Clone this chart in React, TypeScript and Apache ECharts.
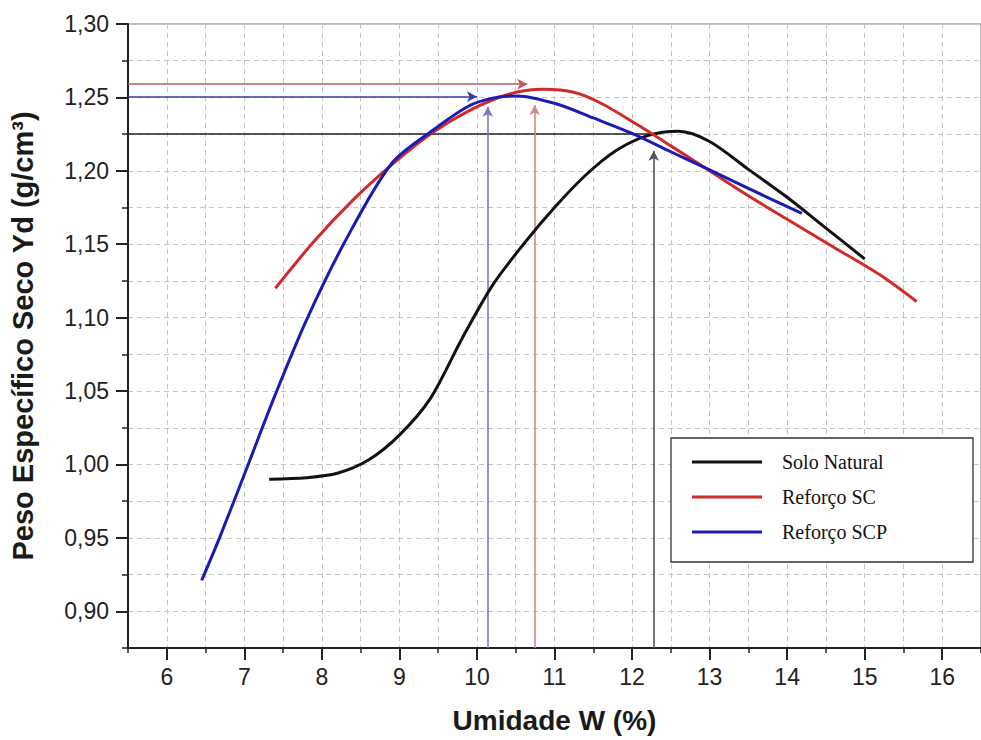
import React, { useEffect, useRef } from "react";
import * as echarts from "echarts";

const seriesNames = ["Solo Natural", "Reforço SC", "Reforço SCP"];

const soloW = [7.32, 7.8, 8.2, 8.6, 9.0, 9.4, 9.8, 10.2, 10.6, 11.0, 11.4, 11.8, 12.2, 12.6, 13.0, 13.5, 14.0, 14.5, 15.0];
const soloY = [0.99, 0.991, 0.994, 1.003, 1.02, 1.045, 1.085, 1.122, 1.15, 1.175, 1.197, 1.214, 1.224, 1.227, 1.22, 1.201, 1.182, 1.161, 1.14];

const scW = [7.4, 7.9, 8.4, 8.9, 9.4, 9.9, 10.4, 10.85, 11.25, 11.6, 12.05, 12.5, 13.0, 13.5, 14.0, 14.6, 15.2, 15.67];
const scY = [1.12, 1.152, 1.18, 1.204, 1.225, 1.241, 1.252, 1.2555, 1.2535, 1.246, 1.232, 1.217, 1.2, 1.183, 1.167, 1.148, 1.129, 1.111];

const scpW = [6.45, 6.68, 7.05, 7.38, 7.79, 8.3, 8.9, 9.44, 9.89, 10.2, 10.52, 11.03, 11.5, 12.0, 12.5, 13.0, 13.5, 14.19];
const scpY = [0.921, 0.95, 1.0, 1.045, 1.097, 1.152, 1.205, 1.228, 1.244, 1.2495, 1.251, 1.2455, 1.236, 1.2255, 1.213, 1.2006, 1.188, 1.171];

// reference lines (optimum values): order = Solo Natural, Reforço SC, Reforço SCP
const hRefY = [1.225, 1.259, 1.2505];
const hRefEndW = [12.28, 10.65, 10.0];
const vRefW = [12.28, 10.745, 10.14];
const vRefTopY = [1.2137, 1.2448, 1.2437];

const xTickLabels = [6, 7, 8, 9, 10, 11, 12, 13, 14, 15, 16];
const yTickLabels = [0.9, 0.95, 1.0, 1.05, 1.1, 1.15, 1.2, 1.25, 1.3];

const xMin = 5.5;
const xMax = 16.5;
const yMin = 0.875;
const yMax = 1.3;

const curveColors = ["#111111", "#d02a2a", "#1c1cb4"];
const hRefColors = ["#222222", "#c05858", "#3a3aa8"];
const vRefColors = ["#555555", "#d08888", "#7a7ac4"];

const fontSans = "'Liberation Sans', Arial, sans-serif";
const fontSerif = "'Liberation Serif', 'Times New Roman', serif";

const zip = (a: number[], b: number[]) => a.map((v, i) => [v, b[i]]);
const fmtY = (v: number) => v.toFixed(2).replace(".", ",");

export default function App() {
  const ref = useRef<HTMLDivElement>(null);
  useEffect(() => {
    if (!ref.current) return;
    const chart = echarts.init(ref.current, undefined, { renderer: "svg" });

    const curveData = [zip(soloW, soloY), zip(scW, scY), zip(scpW, scpY)];

    const curves = seriesNames.map((name, i) => ({
      name,
      type: "line",
      xAxisIndex: 0,
      yAxisIndex: 0,
      data: curveData[i],
      smooth: 0.3,
      symbol: "none",
      lineStyle: { color: curveColors[i], width: 3 },
      itemStyle: { color: curveColors[i] },
      z: 5,
    }));

    const refs = seriesNames.map((name, i) => ({
      name: name + " ref",
      type: "line",
      xAxisIndex: 0,
      yAxisIndex: 0,
      data: [],
      z: 4,
      markLine: {
        silent: true,
        animation: false,
        symbol: ["none", "arrow"],
        symbolSize: [8, 10],
        label: { show: false },
        emphasis: { disabled: true },
        data: [
          [
            { coord: [xMin, hRefY[i]], symbol: "none", lineStyle: { color: hRefColors[i], width: 1.5, type: "solid" } },
            { coord: [hRefEndW[i], hRefY[i]], symbol: i === 0 ? "none" : "arrow" },
          ],
          [
            { coord: [vRefW[i], yMin], symbol: "none", lineStyle: { color: vRefColors[i], width: 1.6, type: "solid" } },
            { coord: [vRefW[i], vRefTopY[i]], symbol: "arrow" },
          ],
        ],
      },
    }));

    const option: any = {
      animation: false,
      backgroundColor: "#ffffff",
      grid: [
        { left: 125, top: 24, right: -9, bottom: 92, show: true, borderColor: "#a8a8a8", borderWidth: 1.5 },
      ],
      xAxis: [
        {
          gridIndex: 0,
          type: "value",
          min: xMin,
          max: xMax,
          interval: 0.5,
          name: "Umidade W (%)",
          nameLocation: "middle",
          nameGap: 58,
          nameTextStyle: { fontFamily: fontSans, fontSize: 28, fontWeight: "bold", color: "#1a1a1a" },
          axisLine: { show: true, lineStyle: { color: "#222", width: 2 } },
          axisTick: { show: true, length: 5, lineStyle: { color: "#222", width: 1.5 } },
          axisLabel: { show: false },
          splitLine: { show: true, lineStyle: { color: "#c4c4c4", width: 1, type: [5, 4] } },
        },
        {
          gridIndex: 0,
          type: "value",
          position: "bottom",
          min: xMin,
          max: xMax,
          axisLine: { show: false },
          axisTick: { show: true, length: 12, customValues: xTickLabels, lineStyle: { color: "#222", width: 2 } },
          axisLabel: {
            show: true,
            customValues: xTickLabels,
            margin: 17,
            fontFamily: fontSans,
            fontSize: 23,
            color: "#222",
            formatter: (v: number) => String(v),
          },
          splitLine: { show: false },
        },
      ],
      yAxis: [
        {
          gridIndex: 0,
          type: "value",
          min: yMin,
          max: yMax,
          interval: 0.025,
          name: "Peso Específico Seco Yd (g/cm³)",
          nameLocation: "middle",
          nameGap: 91,
          nameTextStyle: { fontFamily: fontSans, fontSize: 29, fontWeight: "bold", color: "#1a1a1a" },
          axisLine: { show: true, lineStyle: { color: "#222", width: 2 } },
          axisTick: { show: true, length: 6, lineStyle: { color: "#222", width: 1.5 } },
          axisLabel: { show: false },
          splitLine: { show: true, lineStyle: { color: "#c4c4c4", width: 1, type: [5, 4] } },
        },
        {
          gridIndex: 0,
          type: "value",
          position: "left",
          min: yMin,
          max: yMax,
          axisLine: { show: false },
          axisTick: { show: true, length: 12, customValues: yTickLabels, lineStyle: { color: "#222", width: 2 } },
          axisLabel: {
            show: true,
            customValues: yTickLabels,
            margin: 19,
            fontFamily: fontSans,
            fontSize: 23,
            color: "#222",
            formatter: (v: number) => fmtY(v),
          },
          splitLine: { show: false },
        },
      ],
      legend: {
        data: seriesNames,
        orient: "vertical",
        left: 692,
        top: 452,
        padding: 0,
        icon: "rect",
        itemWidth: 70,
        itemHeight: 3,
        itemGap: 15,
        z: 100,
        selectedMode: false,
        textStyle: { fontFamily: fontSerif, fontSize: 20, color: "#111", padding: [0, 0, 0, 15] },
      },
      graphic: [
        {
          type: "rect",
          z: 50,
          shape: { x: 671, y: 438, width: 302, height: 124 },
          style: { fill: "#ffffff", stroke: "#333333", lineWidth: 1.3 },
          silent: true,
        },
      ],
      series: [...curves, ...refs],
    };

    chart.setOption(option);
    return () => chart.dispose();
  }, []);

  return (
    <div
      ref={ref}
      style={{ position: "fixed", left: 0, top: 0, width: 981, height: 740, background: "#fff" }}
    />
  );
}
